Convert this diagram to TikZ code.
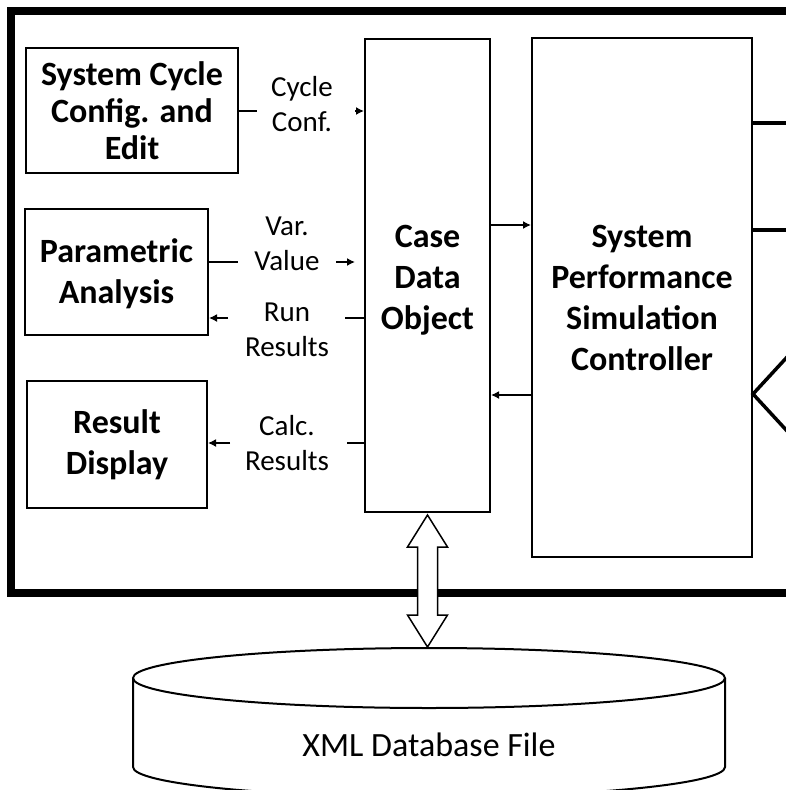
\documentclass[tikz,border=0pt]{standalone}
\usepackage{fontspec}
\setmainfont{Carlito}
\usetikzlibrary{arrows.meta}

\begin{document}
\begin{tikzpicture}
	[x=1pt,y=-1pt,
	 block/.style={draw,line width=2pt,align=center,inner sep=0pt,font=\fontsize{34}{41}\selectfont\bfseries},
	 tag/.style={align=center,inner sep=0pt,font=\fontsize{29}{35}\selectfont},
	 link/.style={line width=1.5pt},
	 linkarrow/.style={line width=1.5pt,-{Latex[length=8pt,width=8pt]}},
	 outline/.style={line width=8pt,line join=miter},
	 stub/.style={line width=3.5pt,line join=miter},
	 bigarrow/.style={draw,fill=white,line width=1.5pt,line join=miter},
	 drum/.style={line width=2pt}];
\useasboundingbox (0,0) rectangle (786,790);
\clip (0,0) rectangle (786,790);

% outer frame, open to the right
\coordinate (frameTR) at (800,11);
\coordinate (frameBR) at (800,593);
\draw[outline] (frameTR) -- (11,11) -- (11,593) -- (frameBR);

\node[block,minimum width=212,minimum height=125,font=\fontsize{34}{37}\selectfont\bfseries] (cycle) at (132,110.5) {System Cycle\\Config. and\\Edit};
\node[block,minimum width=183,minimum height=126] (param) at (116.5,272) {\rule{0pt}{28pt}Parametric\\Analysis};
\node[block,minimum width=180,minimum height=127] (result) at (117,444.5) {Result\\Display};
\node[block,minimum width=125,minimum height=473] (cdo) at (427.5,275.5) {\rule{0pt}{32pt}Case\\Data\\Object};
\node[block,minimum width=220,minimum height=519] (spsc) at (642,297.5) {System\\Performance\\Simulation\\Controller};

\node[tag] (cyclelbl) at (302,104.5) {Cycle\\Conf.};
\node[tag] (varlbl) at (287,244) {Var.\\Value};
\node[tag] (runlbl) at (287,329.5) {Run\\Results};
\node[tag] (calclbl) at (287,443.5) {Calc.\\Results};

% left side links, broken by their labels
\coordinate (cyclegap1) at (257,111);
\coordinate (cyclegap2) at (355,111);
\draw[link] (cycle.east |- cyclegap1) -- (cyclegap1);
\draw[linkarrow] (cyclegap2) -- (cyclegap2 -| cdo.west);

\coordinate (vargap1) at (238,262);
\coordinate (vargap2) at (336,262);
\coordinate (varend) at (355,262);
\draw[link] (param.east |- vargap1) -- (vargap1);
\draw[linkarrow] (vargap2) -- (varend);

\coordinate (rungap1) at (345,318);
\coordinate (rungap2) at (228,318);
\draw[link] (cdo.west |- rungap1) -- (rungap1);
\draw[linkarrow] (rungap2) -- (rungap2 -| param.east);

\coordinate (calcgap1) at (347,443);
\coordinate (calcgap2) at (230,443);
\draw[link] (cdo.west |- calcgap1) -- (calcgap1);
\draw[linkarrow] (calcgap2) -- (calcgap2 -| result.east);

% case data <-> controller
\coordinate (fwd) at (510,225);
\coordinate (back) at (510,395);
\draw[linkarrow] (fwd -| cdo.east) -- (fwd -| spsc.west);
\draw[linkarrow] (back -| spsc.west) -- (back -| cdo.east);

% stubs leaving the controller
\coordinate (stubA) at (800,123);
\coordinate (stubB) at (800,230);
\draw[stub] (stubA -| spsc.east) -- (stubA);
\draw[stub] (stubB -| spsc.east) -- (stubB);
\coordinate (forkup) at (800,343);
\coordinate (forktip) at (753,394);
\coordinate (forkdown) at (800,445);
\draw[stub] (forkup) -- (forktip) -- (forkdown);

% database drum
\node[tag,font=\fontsize{34}{41}\selectfont] (db) at (429,745) {XML Database File};
\draw[drum] (133,678) -- (133,767) arc[start angle=180,end angle=0,x radius=296,y radius=30] -- (725,678);
\draw[drum] (429,678) ellipse [x radius=296,y radius=30];

% two-way transfer
\coordinate (linktop) at (427.5,515);
\coordinate (dbtop) at (427.5,647);
\draw[bigarrow] (linktop) -- ++(20,32) -- ++(-10,0) -- ++(0,68) -- ++(10,0) -- (dbtop)
	-- ++(-20,-32) -- ++(10,0) -- ++(0,-68) -- ++(-10,0) -- cycle;
\end{tikzpicture}
\end{document}
